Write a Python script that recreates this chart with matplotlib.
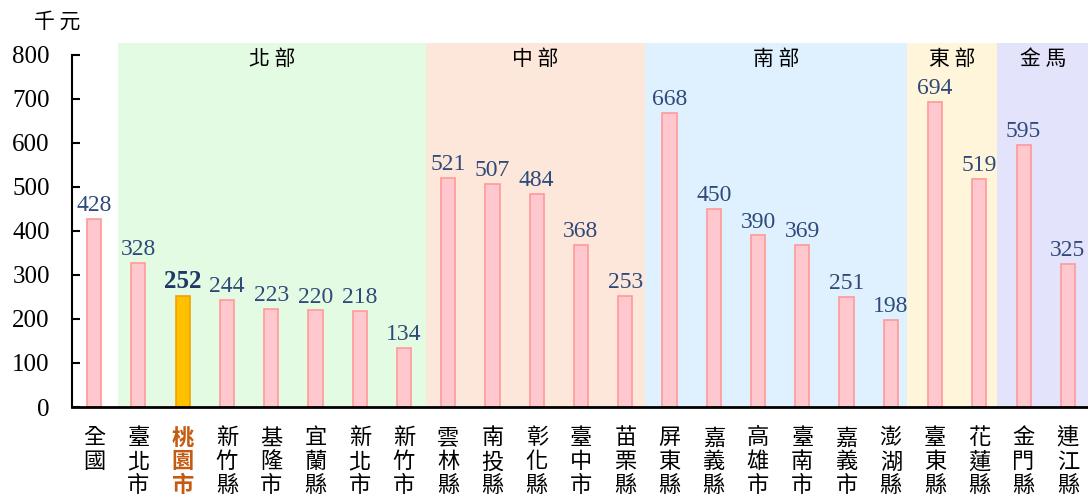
import matplotlib
matplotlib.use("Agg")
import matplotlib.pyplot as plt

plt.rcParams['font.family'] = ['Liberation Serif', 'Noto Sans CJK TC']

# data
categories = ["全國", "臺北市", "桃園市", "新竹縣", "基隆市", "宜蘭縣", "新北市", "新竹市",
              "雲林縣", "南投縣", "彰化縣", "臺中市", "苗栗縣",
              "屏東縣", "嘉義縣", "高雄市", "臺南市", "嘉義市", "澎湖縣",
              "臺東縣", "花蓮縣", "金門縣", "連江縣"]
values = [428, 328, 252, 244, 223, 220, 218, 134,
          521, 507, 484, 368, 253,
          668, 450, 390, 369, 251, 198,
          694, 519, 595, 325]
highlight = "桃園市"

region_names = ["北部", "中部", "南部", "東部", "金馬"]
region_edges = [0.55, 7.5, 12.45, 18.37, 20.4, 22.5]
region_colors = ["#E2FBE2", "#FCE7DA", "#DFF1FE", "#FFF5DA", "#E4E3FC"]

fig = plt.figure(figsize=(10.88, 5), dpi=100)
ax = fig.add_axes([72 / 1088, 93 / 500, 1018 / 1088, 364 / 500])

# region backgrounds
for k, (name, c) in enumerate(zip(region_names, region_colors)):
    a, b = region_edges[k], region_edges[k + 1]
    ax.axvspan(a, b, color=c, zorder=0, lw=0)
    ax.text((a + b) / 2, 816, " ".join(name), ha="center", va="top", fontsize=15,
            family=["Noto Sans CJK TC"], color="black")

x = range(len(categories))
for i, (cat, v) in enumerate(zip(categories, values)):
    if cat == highlight:
        ax.bar(i, v, width=0.32, color="#FFC000", edgecolor="#F4A000", lw=1.2, zorder=2)
        ax.text(i, v + 6, str(v), ha="center", va="bottom", fontsize=18,
                fontweight="bold", color="#1F3864")
    else:
        ax.bar(i, v, width=0.32, color="#FFC7CE", edgecolor="#FF9999", lw=1.2, zorder=2)
        ax.text(i, v + 6, str(v), ha="center", va="bottom", fontsize=17,
                color="#2F4A7A")

ax.set_xlim(-0.5, len(categories) - 0.5)
ax.set_ylim(0, 827)
ax.set_yticks(range(0, 801, 100))
ax.tick_params(axis="y", labelsize=18, length=6, width=1.5, direction="in", pad=16)
ax.spines['left'].set_bounds(0, 800)
ax.spines['left'].set_linewidth(1.5)
ax.spines['bottom'].set_linewidth(2)
ax.spines['top'].set_visible(False)
ax.spines['right'].set_visible(False)

ax.set_xticks(list(x))
ax.set_xticklabels(["\n".join(c) for c in categories], family=["Noto Sans CJK TC"],
                   fontsize=16, linespacing=1.05, va="top")
ax.tick_params(axis="x", length=0, pad=14)
for lbl in ax.get_xticklabels():
    if lbl.get_text().replace("\n", "") == highlight:
        lbl.set_color("#C55A11")
        lbl.set_fontweight("bold")

fig.text(57 / 1088, 1 - 22 / 500, "千 元", ha="center", va="center", fontsize=15,
         family=["Noto Sans CJK TC"])

fig.savefig("out.png", dpi=100)
